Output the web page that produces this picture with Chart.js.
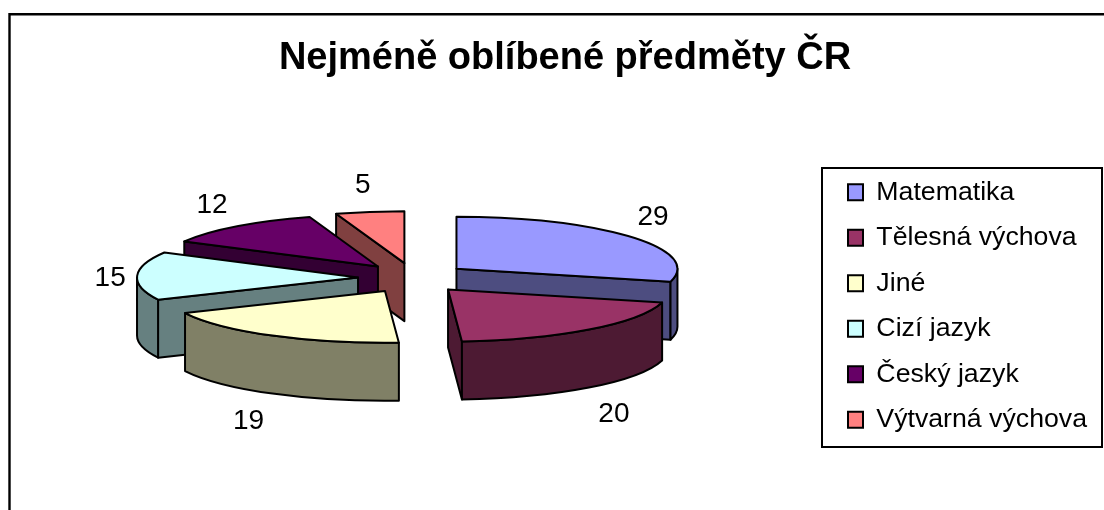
<!DOCTYPE html>
<html lang="cs">
<head>
<meta charset="utf-8">
<title>Nejméně oblíbené předměty ČR</title>
<style>html,body{margin:0;padding:0;background:#fff}canvas{display:block}</style>
<script src="https://cdn.jsdelivr.net/npm/chart.js@4/dist/chart.umd.min.js"></script>
</head>
<body>
<canvas id="c" width="1104" height="510"></canvas>
<script>
const chartTitle = 'Nejméně oblíbené předměty ČR';
const categories = ['Matematika', 'Tělesná výchova', 'Jiné', 'Cizí jazyk', 'Český jazyk', 'Výtvarná výchova'];
const values = [29, 20, 19, 15, 12, 5];
const topColors = ['#9999FF', '#993366', '#FFFFCC', '#CCFFFF', '#660066', '#FF8080'];
const wallColors = ['#4D4D80', '#4D1A33', '#808066', '#668080', '#330033', '#804040'];

const FONT = '"Liberation Sans", Arial, sans-serif';
const view = {
  cx: 413, cy: 278, squash: 0.235, depth: 58,
  explodeX: 55, explodeY: 15, line: 2,
  labelSize: 28,
  labelNudge: [[22, -20], [25, 27], [-24, 28], [-27, 2], [-25, -21], [-7, -27]]
};

const pie3d = {
  id: 'pie3d',
  beforeDatasetsDraw(chart) {
    const ctx = chart.ctx;
    const arcs = chart.getDatasetMeta(0).data;
    const v = view;
    const items = arcs.map((arc, i) => {
      const mid = (arc.startAngle + arc.endAngle) / 2;
      return { arc, i, mid,
        ox: v.cx + Math.cos(mid) * v.explodeX,
        oy: v.cy + Math.sin(mid) * v.explodeY };
    }).sort((a, b) => Math.sin(a.mid) - Math.sin(b.mid));

    ctx.save();
    ctx.lineWidth = v.line;
    ctx.lineJoin = 'round';
    ctx.strokeStyle = '#000';
    for (const it of items) {
      const { arc, i, ox, oy } = it;
      const rx = arc.outerRadius, ry = rx * v.squash;
      const a0 = arc.startAngle, a1 = arc.endAngle;
      const edge = a => [ox + Math.cos(a) * rx, oy + Math.sin(a) * ry];
      const paint = () => { ctx.fillStyle = wallColors[i]; ctx.fill(); ctx.stroke(); };
      const radial = a => {
        const [x, y] = edge(a);
        ctx.beginPath();
        ctx.moveTo(ox, oy); ctx.lineTo(x, y);
        ctx.lineTo(x, y + v.depth); ctx.lineTo(ox, oy + v.depth);
        ctx.closePath(); paint();
      };
      if (Math.cos(a0) < 0) radial(a0);
      if (Math.cos(a1) > 0) radial(a1);
      // visible (front-facing) part of the rim
      for (const [lo, hi] of [[0, Math.PI], [2 * Math.PI, 3 * Math.PI], [-2 * Math.PI, -Math.PI]]) {
        const s = Math.max(a0, lo), e = Math.min(a1, hi);
        if (e <= s) continue;
        ctx.beginPath();
        ctx.ellipse(ox, oy, rx, ry, 0, s, e);
        ctx.ellipse(ox, oy + v.depth, rx, ry, 0, e, s, true);
        ctx.closePath(); paint();
      }
      // top face, filled by the library's own arc element
      ctx.save();
      ctx.translate(ox, oy);
      ctx.scale(1, v.squash);
      ctx.translate(-arc.x, -arc.y);
      arc.draw(ctx);
      ctx.restore();
      ctx.beginPath();
      ctx.moveTo(ox, oy);
      ctx.ellipse(ox, oy, rx, ry, 0, a0, a1);
      ctx.closePath();
      ctx.stroke();
    }
    // value labels
    ctx.fillStyle = '#000';
    ctx.font = v.labelSize + 'px ' + FONT;
    ctx.textAlign = 'center';
    ctx.textBaseline = 'middle';
    for (const it of items) {
      const { arc, i, mid, ox, oy } = it;
      const rx = arc.outerRadius, ry = rx * v.squash;
      const wall = Math.sin(mid) > 0.1 ? v.depth : 0;
      const [nx, ny] = v.labelNudge[i];
      ctx.fillText(String(values[i]), ox + Math.cos(mid) * rx + nx, oy + Math.sin(mid) * ry + wall + ny);
    }
    ctx.restore();
    return false;
  },
  afterDraw(chart) {
    const ctx = chart.ctx;
    ctx.save();
    ctx.strokeStyle = '#000';
    ctx.lineWidth = 2.4;
    ctx.beginPath();
    ctx.moveTo(9.5, 510); ctx.lineTo(9.5, 14.3); ctx.lineTo(1104, 14.3);
    ctx.stroke();
    ctx.lineWidth = 2;
    ctx.strokeRect(822, 168, 280, 279);
    ctx.restore();
  }
};

new Chart(document.getElementById('c'), {
  type: 'pie',
  data: {
    labels: categories,
    datasets: [{ data: values, backgroundColor: topColors, borderWidth: 0 }]
  },
  plugins: [pie3d],
  options: {
    responsive: false,
    animation: false,
    radius: 221,
    layout: { padding: { left: 33, right: 7, top: 0, bottom: 0 } },
    plugins: {
      tooltip: { enabled: false },
      title: {
        display: true,
        text: chartTitle,
        color: '#000',
        font: { family: FONT, size: 38, weight: 'bold' },
        padding: { top: 36, bottom: 20.4 }
      },
      legend: {
        position: 'right',
        fullSize: false,
        labels: {
          color: '#000',
          font: { family: FONT, size: 26.7 },
          boxWidth: 15,
          boxHeight: 16,
          padding: 18.8,
          generateLabels(chart) {
            return Chart.overrides.pie.plugins.legend.labels.generateLabels(chart)
              .map(l => Object.assign(l, { strokeStyle: '#000', lineWidth: 2 }));
          }
        }
      }
    }
  }
});
</script>
</body>
</html>
